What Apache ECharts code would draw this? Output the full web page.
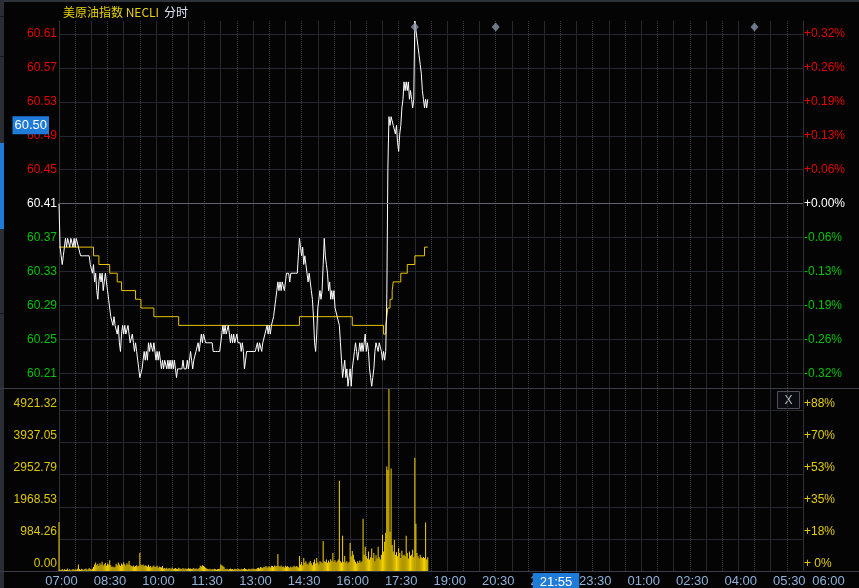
<!DOCTYPE html>
<html><head><meta charset="utf-8">
<script src="https://cdn.jsdelivr.net/npm/echarts@6/dist/echarts.min.js"></script>
<style>html,body{margin:0;padding:0;background:#040404;overflow:hidden}#c{width:859px;height:588px}</style>
</head><body><div id="c"></div>
<script>
// ---------------- data ----------------
const titleMain = '美原油指数 NECLI';
const titleSub = '分时';
const prevClose = 60.41;
const stepMinutes = 2;            // one sample every 2 minutes from 07:00
const priceValues = [
  60.41,60.36,60.35,60.34,60.35,60.36,60.37,60.36,60.37,60.37,
  60.36,60.37,60.37,60.36,60.37,60.36,60.37,60.37,60.36,60.36,
  60.35,60.35,60.35,60.35,60.35,60.35,60.35,60.35,60.35,60.34,
  60.34,60.33,60.34,60.32,60.33,60.31,60.30,60.32,60.33,60.32,
  60.33,60.31,60.32,60.33,60.32,60.31,60.30,60.29,60.28,60.28,
  60.27,60.28,60.27,60.27,60.26,60.27,60.25,60.24,60.26,60.27,
  60.26,60.27,60.26,60.26,60.27,60.26,60.25,60.25,60.26,60.25,
  60.24,60.25,60.24,60.23,60.22,60.21,60.21,60.22,60.23,60.24,
  60.23,60.24,60.23,60.25,60.24,60.25,60.25,60.24,60.25,60.24,
  60.23,60.24,60.23,60.24,60.23,60.22,60.23,60.22,60.23,60.23,
  60.22,60.23,60.22,60.23,60.22,60.23,60.22,60.23,60.22,60.21,
  60.22,60.22,60.22,60.22,60.22,60.23,60.22,60.22,60.22,60.23,
  60.22,60.23,60.24,60.23,60.22,60.23,60.23,60.24,60.24,60.25,
  60.24,60.25,60.26,60.25,60.26,60.26,60.25,60.25,60.25,60.25,
  60.25,60.25,60.25,60.24,60.24,60.24,60.24,60.24,60.24,60.24,
  60.24,60.26,60.27,60.26,60.27,60.26,60.26,60.27,60.26,60.25,
  60.26,60.25,60.26,60.25,60.25,60.26,60.25,60.25,60.25,60.24,
  60.25,60.24,60.22,60.23,60.24,60.24,60.24,60.24,60.24,60.24,
  60.24,60.24,60.24,60.24,60.25,60.24,60.25,60.25,60.24,60.25,
  60.25,60.26,60.26,60.27,60.26,60.27,60.26,60.27,60.27,60.28,
  60.29,60.30,60.31,60.32,60.31,60.32,60.31,60.32,60.32,60.31,
  60.32,60.33,60.33,60.33,60.32,60.33,60.33,60.33,60.33,60.33,
  60.33,60.33,60.35,60.37,60.36,60.35,60.36,60.34,60.35,60.34,
  60.33,60.32,60.33,60.32,60.31,60.30,60.28,60.25,60.24,60.26,
  60.29,60.30,60.31,60.30,60.31,60.34,60.37,60.35,60.34,60.33,
  60.31,60.32,60.30,60.31,60.30,60.31,60.29,60.29,60.28,60.28,
  60.27,60.25,60.23,60.21,60.22,60.23,60.21,60.22,60.20,60.21,
  60.22,60.20,60.22,60.23,60.24,60.25,60.24,60.23,60.24,60.25,
  60.24,60.25,60.24,60.25,60.26,60.24,60.25,60.24,60.22,60.21,
  60.20,60.21,60.22,60.24,60.25,60.25,60.24,60.25,60.25,60.24,
  60.23,60.24,60.23,60.24,60.30,60.45,60.51,60.50,60.51,60.51,
  60.50,60.50,60.49,60.50,60.48,60.47,60.49,60.50,60.52,60.53,
  60.55,60.54,60.55,60.54,60.55,60.53,60.54,60.53,60.52,60.53,
  60.62,60.61,60.60,60.59,60.58,60.57,60.56,60.54,60.53,60.52,
  60.53,60.52,60.53
];
const avgTimes  = ['07:00','08:04','08:14','08:34','08:48','08:56','09:22','09:32','09:56','10:42','14:26','16:04','17:02','17:06','17:08','17:10','17:14','17:18','17:20','17:34','17:46','18:00','18:18','18:24'];
const avgValues = [60.36, 60.35, 60.34, 60.33, 60.32, 60.31, 60.30, 60.29, 60.28, 60.27, 60.28, 60.27, 60.26, 60.27, 60.28, 60.29, 60.30, 60.31, 60.32, 60.33, 60.34, 60.35, 60.36, 60.36];
const volumeValues = [
  1500,40,30,60,20,50,30,40,80,30,
  50,20,40,60,30,50,40,70,200,60,
  40,70,50,30,60,80,40,50,90,60,
  40,70,120,200,260,180,220,150,240,190,
  280,170,210,250,160,230,200,330,180,120,
  140,110,130,220,180,260,200,150,230,190,
  270,210,170,240,200,310,180,160,140,170,
  130,150,180,140,160,560,190,170,200,150,
  180,160,140,190,130,150,110,140,170,120,
  130,160,100,140,120,110,150,80,90,70,
  100,60,90,80,70,110,60,80,90,70,
  60,100,80,70,60,90,50,80,70,60,
  90,70,80,60,70,90,60,80,70,60,
  90,160,140,180,150,120,100,80,60,50,
  70,40,60,50,70,60,40,50,60,70,
  200,180,150,120,60,50,70,40,60,80,
  50,60,40,70,60,50,80,60,40,70,
  50,60,90,60,50,40,70,60,50,80,
  60,70,50,60,90,100,80,120,110,90,
  130,120,150,100,140,130,110,160,150,120,
  170,140,150,520,150,130,170,120,140,110,
  160,130,150,120,100,140,110,130,160,120,
  150,140,110,460,200,280,180,400,250,300,
  220,190,260,310,240,180,270,350,230,400,
  260,200,300,280,240,920,300,280,350,250,
  320,270,360,300,550,280,330,260,300,350,
  2770,300,260,1080,280,460,260,300,240,280,
  860,450,615,500,350,280,230,300,250,320,
  270,300,1600,500,740,450,380,600,350,420,
  690,400,550,300,480,380,740,420,350,500,
  1110,600,900,1170,3200,3100,5590,1200,3140,800,
  600,950,500,585,450,700,550,400,620,480,
  500,450,1080,550,380,600,470,500,650,420,
  3475,1445,550,450,380,500,420,400,430,400,
  1485,350,420
];
const xTickLabels = ['07:00','08:30','10:00','11:30','13:00','14:30','16:00','17:30','19:00','20:30','22:00','23:30','01:00','02:30','04:00','05:30','06:00'];
const priceTickValues = [60.215,60.254,60.293,60.332,60.371,60.41,60.449,60.488,60.527,60.566,60.605];
const priceTickLabels = ['60.21','60.25','60.29','60.33','60.37','60.41','60.45','60.49','60.53','60.57','60.61'];
const pctTickLabels   = ['-0.32%','-0.26%','-0.19%','-0.13%','-0.06%','+0.00%','+0.06%','+0.13%','+0.19%','+0.26%','+0.32%'];
const volTickValues = [0, 984.26, 1968.53, 2952.79, 3937.05, 4921.32];
const volTickLabels = ['0.00','984.26','1968.53','2952.79','3937.05','4921.32'];
const volPctLabels  = ['+ 0%','+18%','+35%','+53%','+70%','+88%'];
const eventTimes = ['18:00','20:30','04:30'];
const eventLevel = 60.613;
const cursorPrice = 60.50;
const cursorTime = '21:55';

// ---------------- helpers ----------------
const toMin = s => { const p = s.split(':').map(Number); let v = p[0]*60 + p[1] - 420; if (v < 0) v += 1440; return v; };
const toHHMM = m => { let t = (Math.round(m) + 420) % 1440; const h = Math.floor(t/60), mm = t % 60; return String(h).padStart(2,'0') + ':' + String(mm).padStart(2,'0'); };
const findIdx = (arr, v) => arr.findIndex(a => Math.abs(a - v) < 1e-6);
const xTickValues = xTickLabels.map(toMin);
const X_MAX = xTickValues[xTickValues.length - 1];

const priceData = priceValues.map((v, i) => [i * stepMinutes, v]);
const avgData = avgTimes.map((t, i) => [toMin(t), avgValues[i]]);
const volData = volumeValues.map((v, i) => [i * stepMinutes, v]);
const eventData = eventTimes.map(t => [toMin(t), eventLevel]);

const FONT = "'Liberation Sans', Arial, sans-serif";
const GRID_C = '#25282e';
const DOT_C = '#3a3d45';
const RED = '#e60000', GREEN = '#00c400', YEL = '#dcc800';
const CURSOR_BG = '#1f7bd8';

const priceColor = v => v > prevClose + 1e-6 ? RED : (v < prevClose - 1e-6 ? GREEN : '#ffffff');

const xBase = (gi) => ({
  type: 'value', gridIndex: gi, min: 0, max: X_MAX, interval: 60,
  axisLine: { show: false }, axisTick: { show: false },
  splitLine: { show: true, lineStyle: { color: GRID_C, width: 1 } },
  minorTick: { show: false, splitNumber: 2 },
  minorSplitLine: { show: true, lineStyle: { color: DOT_C, type: 'dotted', width: 1 } },
  axisLabel: { show: false }
});

const x0 = xBase(0);
const x1 = xBase(1);
x1.axisLabel = {
  show: true, customValues: xTickValues, margin: 4,
  fontFamily: FONT, fontSize: 13, color: '#8fb1da',
  formatter: (v) => {
    const i = findIdx(xTickValues, v);
    if (i < 0) return '';
    return i === xTickValues.length - 1 ? '{last|' + xTickLabels[i] + '}' : '{n|' + xTickLabels[i] + '}';
  },
  rich: {
    n: { padding: [0, 0, 0, 5], color: '#8fb1da', fontSize: 13, fontFamily: FONT },
    last: { padding: [0, 0, 0, 51], color: '#8fb1da', fontSize: 13, fontFamily: FONT }
  }
};
x1.axisPointer = {
  show: true, value: toMin(cursorTime), status: 'show', type: 'line', triggerTooltip: false,
  lineStyle: { opacity: 0 },
  label: { show: true, formatter: p => '{s|}{t|' + toHHMM(p.value) + '}',
           backgroundColor: 'rgba(0,0,0,0)', padding: 0, margin: 2, borderRadius: 0,
           rich: {
             s: { width: 22, height: 17 },
             t: { backgroundColor: CURSOR_BG, color: '#ffffff', fontFamily: FONT, fontSize: 13,
                  padding: [2, 7, 1, 7], height: 14, lineHeight: 14 }
           } }
};

const PMIN = 60.198, PMAX = 60.62;
const VMAX = 5610;

const option = {
  animation: false,
  backgroundColor: '#040404',
  title: {
    text: '{a|' + titleMain + '} {b|' + titleSub + '}',
    left: 63, top: 3, padding: 0,
    textStyle: { fontWeight: 'normal', rich: {
      a: { color: '#e6d200', fontSize: 12, fontWeight: 'normal', fontFamily: "'Noto Sans CJK SC', sans-serif" },
      b: { color: '#dce6f5', fontSize: 12, fontWeight: 'normal', fontFamily: "'Noto Sans CJK SC', sans-serif" }
    } }
  },
  grid: [
    { left: 59, right: 56, top: 21, height: 367 },
    { left: 59, right: 56, top: 388, height: 183 }
  ],
  xAxis: [x0, x1],
  yAxis: [
    { type: 'value', gridIndex: 0, position: 'left', min: PMIN, max: PMAX,
      axisLine: { show: true, lineStyle: { color: '#2e3138' } },
      axisTick: { show: false, customValues: priceTickValues },
      splitLine: { show: true, lineStyle: { color: GRID_C } },
      axisLabel: { customValues: priceTickValues, margin: 2, fontFamily: FONT, fontSize: 12,
        formatter: v => { const i = findIdx(priceTickValues, v); return i < 0 ? '' : priceTickLabels[i]; },
        color: v => priceColor(v) },
      axisPointer: { show: true, value: cursorPrice, status: 'show', type: 'line', triggerTooltip: false,
        lineStyle: { opacity: 0 },
        label: { show: true, formatter: p => Number(p.value).toFixed(2), backgroundColor: CURSOR_BG, color: '#ffffff',
                 fontFamily: FONT, fontSize: 13, padding: [3, 2, 2, 2], margin: 10, borderRadius: 0 } }
    },
    { type: 'value', gridIndex: 0, position: 'right', min: PMIN, max: PMAX,
      axisLine: { show: true, lineStyle: { color: '#2e3138' } },
      axisTick: { show: false, customValues: priceTickValues },
      splitLine: { show: false },
      axisLabel: { customValues: priceTickValues, margin: 1, fontFamily: FONT, fontSize: 12,
        formatter: v => { const i = findIdx(priceTickValues, v); return i < 0 ? '' : pctTickLabels[i]; },
        color: v => priceColor(v) }
    },
    { type: 'value', gridIndex: 1, position: 'left', min: 0, max: VMAX,
      axisLine: { show: true, lineStyle: { color: '#2e3138' } },
      axisTick: { show: false, customValues: volTickValues },
      splitLine: { show: true, lineStyle: { color: GRID_C } },
      axisLabel: { customValues: volTickValues, margin: 2, fontFamily: FONT, fontSize: 12, color: YEL,
        verticalAlign: 'bottom', lineHeight: 14,
        formatter: v => { const i = findIdx(volTickValues, v); return i < 0 ? '' : volTickLabels[i]; } }
    },
    { type: 'value', gridIndex: 1, position: 'right', min: 0, max: VMAX,
      axisLine: { show: true, lineStyle: { color: '#2e3138' } },
      axisTick: { show: false, customValues: volTickValues },
      splitLine: { show: false },
      axisLabel: { customValues: volTickValues, margin: 1, fontFamily: FONT, fontSize: 12, color: '#e4cc00',
        verticalAlign: 'bottom', lineHeight: 14,
        formatter: v => { const i = findIdx(volTickValues, v); return i < 0 ? '' : volPctLabels[i]; } }
    }
  ],
  series: [
    { name: 'price', type: 'line', xAxisIndex: 0, yAxisIndex: 0, data: priceData,
      showSymbol: false, symbol: 'none', lineStyle: { color: '#ffffff', width: 1 }, z: 4,
      markLine: { silent: true, symbol: 'none', label: { show: false },
        lineStyle: { color: '#60636e', type: 'solid', width: 1 }, data: [{ yAxis: prevClose }] } },
    { name: 'avg', type: 'line', step: 'end', xAxisIndex: 0, yAxisIndex: 0, data: avgData,
      showSymbol: false, symbol: 'none', lineStyle: { color: '#e8c400', width: 1 }, z: 3 },
    { name: 'events', type: 'scatter', xAxisIndex: 0, yAxisIndex: 0, data: eventData,
      symbol: 'diamond', symbolSize: [8, 9], itemStyle: { color: '#8794a8' }, z: 5 },
    { name: 'volume', type: 'bar', xAxisIndex: 1, yAxisIndex: 2, data: volData,
      barWidth: 1, itemStyle: { color: '#f8d400' }, large: false }
  ],
  graphic: [
    { type: 'rect', shape: { x: 0, y: 0, width: 859, height: 2 }, style: { fill: '#2f3238' }, silent: true },
    { type: 'rect', shape: { x: 0, y: 0, width: 4, height: 588 }, style: { fill: '#2a2d33' }, silent: true },
    { type: 'rect', shape: { x: 0, y: 16, width: 4, height: 1 }, style: { fill: '#15171a' }, silent: true },
    { type: 'rect', shape: { x: 0, y: 56, width: 4, height: 1 }, style: { fill: '#15171a' }, silent: true },
    { type: 'rect', shape: { x: 0, y: 313, width: 4, height: 1 }, style: { fill: '#15171a' }, silent: true },
    { type: 'rect', shape: { x: 0, y: 143, width: 4, height: 86 }, style: { fill: '#1f7bd8' }, silent: true },
    { type: 'line', shape: { x1: 0, y1: 388.5, x2: 859, y2: 388.5 }, style: { stroke: '#3a3d45', lineWidth: 1 }, silent: true, z: 10 },
    { type: 'line', shape: { x1: 0, y1: 571.5, x2: 859, y2: 571.5 }, style: { stroke: '#3a3d45', lineWidth: 1 }, silent: true, z: 10 },
    { type: 'group', left: 777, top: 391, silent: true, z: 20, children: [
      { type: 'rect', shape: { x: 0.5, y: 0.5, width: 22, height: 17 }, style: { fill: '#0b0c0f', stroke: '#4d515b', lineWidth: 1 } },
      { type: 'text', x: 11.5, y: 9.5, style: { text: 'X', fill: '#b5bccb', font: "12px 'Liberation Sans', Arial", textAlign: 'center', textVerticalAlign: 'middle' } }
    ] }
  ]
};

const chart = echarts.init(document.getElementById('c'), null, { renderer: 'canvas' });
chart.setOption(option);
</script>
</body></html>
